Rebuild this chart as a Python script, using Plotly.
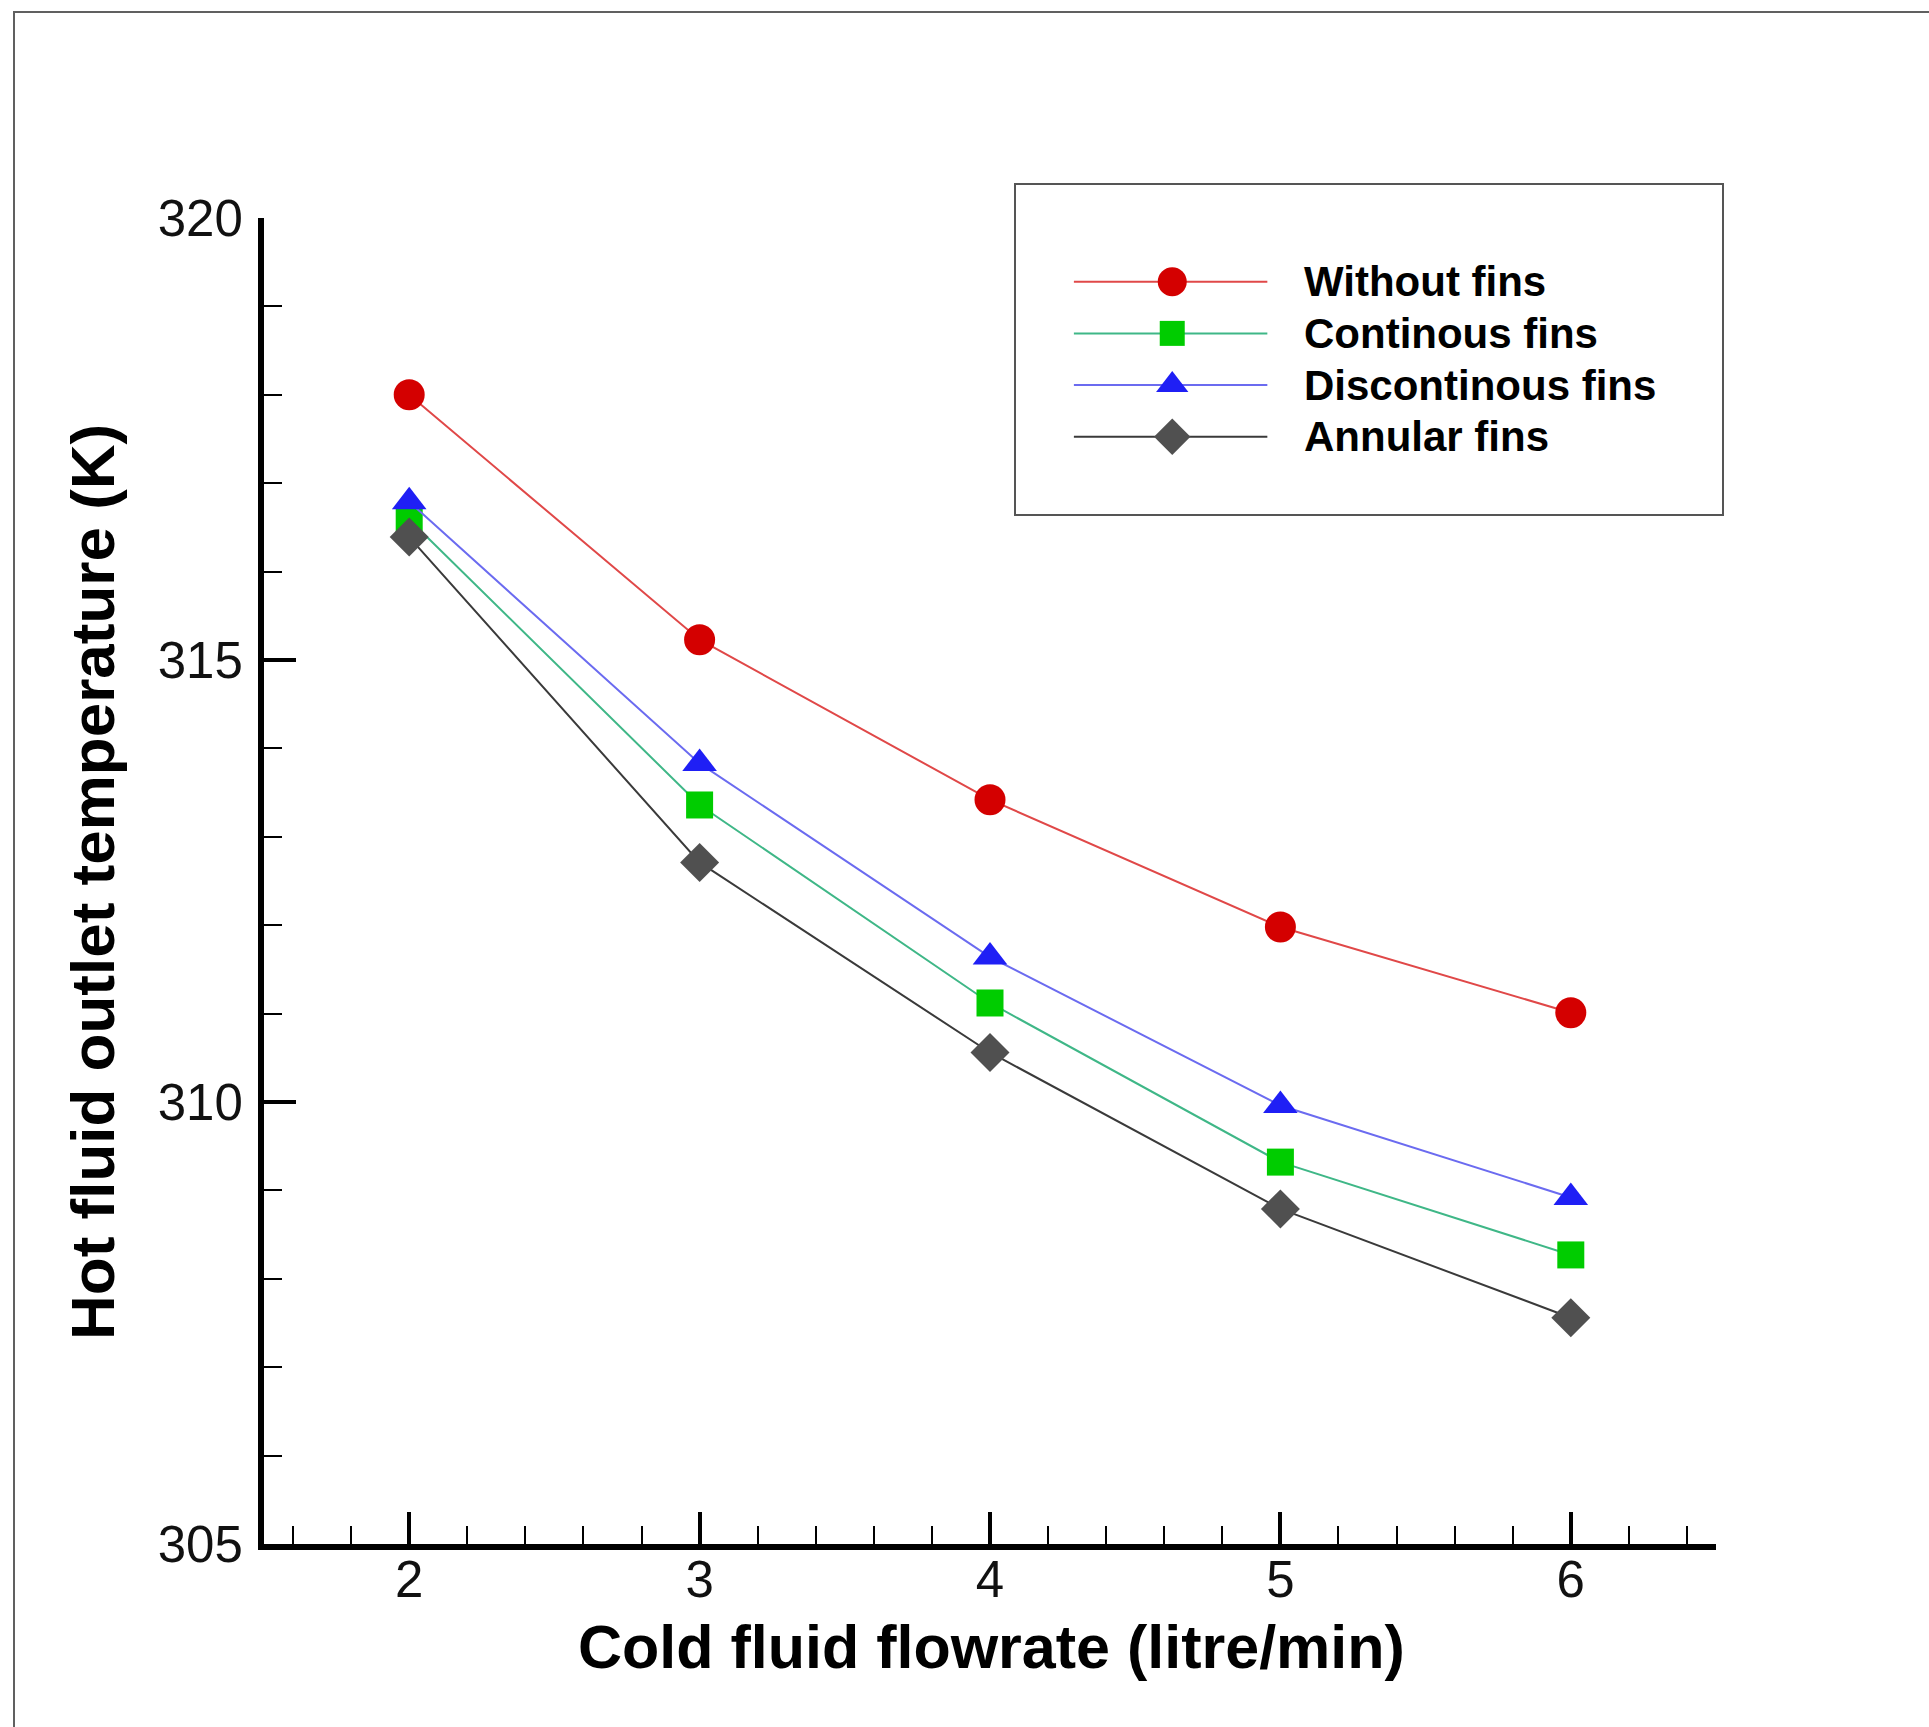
import plotly.graph_objects as go

# ---- data ----
flowrate = [2, 3, 4, 5, 6]
without_fins = [318.00, 315.23, 313.42, 311.98, 311.01]
continous_fins = [316.59, 313.36, 311.12, 309.32, 308.27]
discontinous_fins = [316.79, 313.83, 311.64, 309.96, 308.92]
annular_fins = [316.39, 312.71, 310.56, 308.79, 307.56]

series_names = ["Without fins", "Continous fins", "Discontinous fins", "Annular fins"]
series_values = [without_fins, continous_fins, discontinous_fins, annular_fins]
x_ticks = [2, 3, 4, 5, 6]
y_ticks = [305, 310, 315, 320]

# ---- styles ----
line_colors = ["#e04848", "#3fb787", "#6b6bf0", "#3a3a3a"]
marker_colors = ["#d40000", "#00cc00", "#1f1ff5", "#505050"]
symbols = ["circle", "square", "triangle-up", "diamond"]
msizes = [31, 27, 30, 30]

W, H = 1929, 1727
# plot area in pixels
PX0, PX1 = 264, 1716
PY0, PY1 = 218, 1544
# legend box in pixels
LX0, LX1 = 1016, 1722
LY0, LY1 = 185, 514

def px(x):
    return x / W

def py(y):
    return (H - y) / H

fig = go.Figure()

for name, vals, lc, mc, sym, ms in zip(series_names, series_values, line_colors,
                                        marker_colors, symbols, msizes):
    fig.add_trace(go.Scatter(
        x=flowrate, y=vals, name=name, mode="lines+markers",
        line=dict(color=lc, width=2),
        marker=dict(color=mc, symbol=sym, size=ms, line=dict(width=0)),
        showlegend=False, xaxis="x", yaxis="y", cliponaxis=False,
    ))

# ---- hand-drawn legend on an overlay axis (box coordinates 0..1) ----
leg_line_x = [0.082, 0.356]
leg_mark_x = 0.2213
leg_text_x = 0.405
leg_row_top = 0.706
leg_row_step = 0.157
for i, (name, lc, mc, sym, ms) in enumerate(zip(series_names, line_colors,
                                                 marker_colors, symbols, msizes)):
    yy = leg_row_top - i * leg_row_step
    fig.add_trace(go.Scatter(
        x=leg_line_x, y=[yy, yy], mode="lines",
        line=dict(color=lc, width=2), showlegend=False,
        xaxis="x2", yaxis="y2", hoverinfo="skip",
    ))
    fig.add_trace(go.Scatter(
        x=[leg_mark_x], y=[yy], mode="markers",
        marker=dict(color=mc, symbol=sym, size=ms - 2, line=dict(width=0)),
        showlegend=False, xaxis="x2", yaxis="y2", hoverinfo="skip",
    ))
    fig.add_annotation(
        x=leg_text_x, y=yy, xref="x2", yref="y2", text=name,
        showarrow=False, xanchor="left", yanchor="middle",
        font=dict(family="Liberation Sans, Arial, sans-serif", size=42,
                  color="black", weight="bold"),
    )

tick_font = dict(family="Liberation Sans, Arial, sans-serif", size=51, color="#111111")
xtitle_font = dict(family="Liberation Sans, Arial, sans-serif", size=61, color="black",
                   weight="bold")
ytitle_font = dict(family="Liberation Sans, Arial, sans-serif", size=62, color="black",
                   weight="bold")

fig.update_layout(
    width=W, height=H,
    margin=dict(l=0, r=0, t=0, b=0, pad=0, autoexpand=False),
    paper_bgcolor="white", plot_bgcolor="white",
    xaxis=dict(
        domain=[px(PX0), px(PX1)], range=[1.5, 6.5],
        tickmode="array", tickvals=x_ticks, ticktext=[str(v) for v in x_ticks],
        ticks="inside", ticklen=32, tickwidth=4, tickcolor="black",
        minor=dict(dtick=0.2, tick0=0, ticks="inside", ticklen=18, tickwidth=2,
                   tickcolor="black", showgrid=False),
        showline=True, linecolor="black", linewidth=6, mirror=False,
        showgrid=False, zeroline=False, tickfont=tick_font,
        ticklabelstandoff=-14, anchor="y", automargin=False,
    ),
    yaxis=dict(
        domain=[py(PY1), py(PY0)], range=[305, 320],
        tickmode="array", tickvals=y_ticks, ticktext=[str(v) for v in y_ticks],
        ticks="inside", ticklen=32, tickwidth=4, tickcolor="black",
        minor=dict(dtick=1, tick0=305, ticks="inside", ticklen=18, tickwidth=2,
                   tickcolor="black", showgrid=False),
        showline=True, linecolor="black", linewidth=6, mirror=False,
        showgrid=False, zeroline=False, tickfont=tick_font,
        ticklabelstandoff=5, anchor="x", automargin=False,
    ),
    xaxis2=dict(
        domain=[px(LX0), px(LX1)], range=[0, 1], anchor="y2",
        showline=True, mirror=True, linecolor="#555555", linewidth=2,
        showticklabels=False, ticks="", showgrid=False, zeroline=False,
        fixedrange=True, automargin=False,
    ),
    yaxis2=dict(
        domain=[py(LY1), py(LY0)], range=[0, 1], anchor="x2",
        showline=True, mirror=True, linecolor="#555555", linewidth=2,
        showticklabels=False, ticks="", showgrid=False, zeroline=False,
        fixedrange=True, automargin=False,
    ),
    shapes=[
        dict(type="rect", xref="paper", yref="paper",
             x0=px(14), x1=1.2, y0=-0.2, y1=py(12),
             line=dict(color="#606060", width=2), fillcolor="rgba(0,0,0,0)",
             layer="below"),
    ],
)

fig.add_annotation(
    x=px(991), y=py(1647), xref="paper", yref="paper",
    text="Cold fluid flowrate (litre/min)", showarrow=False,
    xanchor="center", yanchor="middle", font=xtitle_font,
)
fig.add_annotation(
    x=px(92), y=py(882), xref="paper", yref="paper",
    text="Hot fluid outlet temperature (K)", showarrow=False, textangle=-90,
    xanchor="center", yanchor="middle", font=ytitle_font,
)

fig.write_html("out.html")
